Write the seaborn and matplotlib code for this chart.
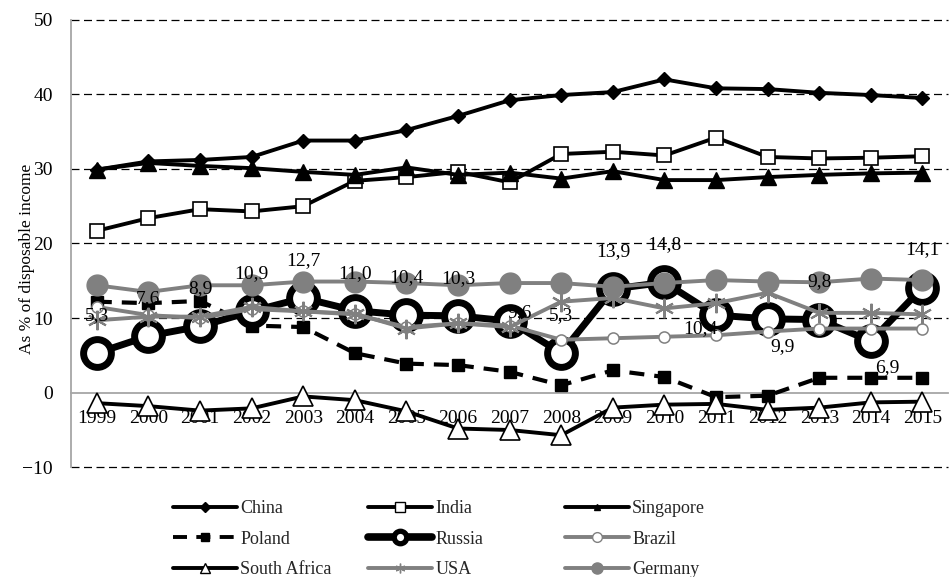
import matplotlib
matplotlib.use("Agg")
import matplotlib.pyplot as plt
from matplotlib.lines import Line2D
import pandas as pd
import seaborn as sns

# Household saving rates, % of disposable income
years = list(range(1999, 2016))
china = [29.9, 31.0, 31.2, 31.6, 33.8, 33.8, 35.2, 37.1, 39.2, 39.9, 40.3, 42.0, 40.8, 40.7, 40.2, 39.9, 39.5]
india = [21.7, 23.4, 24.6, 24.3, 25.0, 28.4, 28.9, 29.6, 28.2, 32.0, 32.3, 31.8, 34.2, 31.6, 31.4, 31.5, 31.7]
singapore = [29.9, 30.8, 30.4, 30.1, 29.6, 29.2, 30.2, 29.2, 29.5, 28.7, 29.7, 28.5, 28.5, 28.9, 29.2, 29.4, 29.5]
poland = [12.2, 12.0, 12.3, 9.0, 8.8, 5.3, 3.9, 3.7, 2.8, 1.0, 3.0, 2.1, -0.6, -0.4, 2.0, 2.0, 2.0]
russia = [5.3, 7.6, 8.9, 10.9, 12.7, 11.0, 10.4, 10.3, 9.6, 5.3, 13.9, 14.8, 10.4, 9.9, 9.8, 6.9, 14.1]
brazil = [11.5, 10.4, 10.0, 11.2, 10.9, 10.5, 8.8, 9.3, 9.0, 7.1, 7.3, 7.5, 7.7, 8.2, 8.6, 8.6, 8.6]
south_africa = [-1.4, -1.8, -2.4, -2.1, -0.5, -1.0, -2.5, -4.8, -5.0, -5.7, -2.0, -1.6, -1.5, -2.3, -2.0, -1.3, -1.2]
usa = [9.7, 10.2, 10.2, 11.5, 10.9, 10.6, 8.6, 9.3, 8.8, 12.2, 12.7, 11.3, 12.0, 13.4, 10.7, 10.7, 10.5]
germany = [14.4, 13.5, 14.4, 14.4, 14.9, 14.9, 14.7, 14.4, 14.7, 14.7, 14.2, 14.7, 15.1, 14.9, 14.8, 15.3, 15.1]
y_ticks = [-10, 0, 10, 20, 30, 40, 50]
y_title = "As % of disposable income"

df = pd.DataFrame({
    "Year": years, "China": china, "India": india, "Singapore": singapore,
    "Poland": poland, "Russia": russia, "Brazil": brazil,
    "South Africa": south_africa, "USA": usa, "Germany": germany,
})

sns.set_theme(style="white")
plt.rcParams["font.family"] = ["Liberation Serif", "DejaVu Serif"]

BLACK = "black"
GREY = "#808080"
AXIS_GREY = "#a6a6a6"
STAR = (6, 2, 0)

# line and marker styles per series (plot styles, legend styles)
plot_styles = {
    "China": dict(color=BLACK, lw=2.8, marker="D", ms=7, mfc=BLACK, mec=BLACK, mew=1),
    "India": dict(color=BLACK, lw=2.8, marker="s", ms=10.5, mfc="white", mec=BLACK, mew=1.2),
    "Singapore": dict(color=BLACK, lw=2.8, marker="^", ms=12, mfc=BLACK, mec=BLACK, mew=1),
    "Poland": dict(color=BLACK, lw=3, marker="s", ms=9, mfc=BLACK, mec=BLACK, mew=1,
                   linestyle=(0, (3.6, 2.4))),
    "Russia": dict(color=BLACK, lw=5, marker="o", ms=20, mfc="white", mec=BLACK, mew=5),
    "Brazil": dict(color=GREY, lw=2.8, marker="o", ms=8, mfc="white", mec=GREY, mew=1.1),
    "South Africa": dict(color=BLACK, lw=2.8, marker="^", ms=15, mfc="white", mec=BLACK, mew=1.2),
    "USA": dict(color=GREY, lw=2.8, marker=STAR, ms=14, mfc=GREY, mec=GREY, mew=1.5),
    "Germany": dict(color=GREY, lw=2.8, marker="o", ms=15, mfc=GREY, mec=GREY, mew=1),
}
legend_styles = {
    "China": dict(color=BLACK, lw=2.8, marker="D", ms=5, mfc=BLACK, mec=BLACK),
    "India": dict(color=BLACK, lw=2.8, marker="s", ms=7, mfc="white", mec=BLACK, mew=1),
    "Singapore": dict(color=BLACK, lw=2.8, marker="^", ms=5, mfc=BLACK, mec=BLACK),
    "Poland": dict(color=BLACK, lw=2.8, marker="s", ms=6, mfc=BLACK, mec=BLACK,
                   linestyle=(0, (3.6, 2.4))),
    "Russia": dict(color=BLACK, lw=5.5, marker="o", ms=9, mfc="white", mec=BLACK, mew=3.8),
    "Brazil": dict(color=GREY, lw=2.8, marker="o", ms=7, mfc="white", mec=GREY, mew=1),
    "South Africa": dict(color=BLACK, lw=2.8, marker="^", ms=7, mfc="white", mec=BLACK, mew=1),
    "USA": dict(color=GREY, lw=2.8, marker=STAR, ms=7, mfc=GREY, mec=GREY, mew=1),
    "Germany": dict(color=GREY, lw=2.8, marker="o", ms=8, mfc=GREY, mec=GREY),
}

fig = plt.figure(figsize=(9.5, 5.77), dpi=100)
ax = fig.add_axes([71 / 950, 1 - 467.3 / 577, 877.3 / 950, 447.6 / 577])

for z, (name, style) in enumerate(plot_styles.items()):
    sns.lineplot(data=df, x="Year", y=name, ax=ax, estimator=None, errorbar=None,
                 legend=False, zorder=4 + z, clip_on=False, **style)

# Russia value labels (decimal comma); a few are nudged off the crowded spots
label_offsets = {2007: (7, 6), 2011: (-11, -9.5), 2012: (11, -20), 2014: (12, -19)}
for yr, v in zip(years, russia):
    dx, dy = label_offsets.get(yr, (0, 27))
    ax.annotate(f"{v:.1f}".replace(".", ","), (yr, v), xytext=(dx, dy),
                textcoords="offset points", ha="center", va="center",
                fontsize=14, color=BLACK, zorder=30)

ax.set_xlim(years[0] - 0.5, years[-1] + 0.5)
ax.set_ylim(min(y_ticks), max(y_ticks))
ax.set_yticks(y_ticks)
ax.set_xticks(years)
ax.set_xticklabels([str(y) for y in years])

for t in y_ticks:
    if t != 0:
        ax.axhline(t, color=BLACK, lw=0.9, linestyle=(0, (6.4, 3.6)), zorder=1, clip_on=False)

for side in ("top", "right"):
    ax.spines[side].set_visible(False)
ax.spines["bottom"].set_position(("data", 0))
ax.spines["bottom"].set_color(AXIS_GREY)
ax.spines["bottom"].set_linewidth(1.3)
ax.spines["bottom"].set_zorder(2)
ax.spines["left"].set_color(AXIS_GREY)
ax.spines["left"].set_linewidth(1.3)

ax.tick_params(axis="x", length=0, pad=12.5, labelsize=14, colors=BLACK)
ax.tick_params(axis="y", length=0, pad=13, labelsize=14, colors=BLACK)
ax.set_xlabel("")
ax.set_ylabel(y_title, fontsize=12.5, color=BLACK)
ax.yaxis.set_label_coords(-0.041, 0.465)

# legend: three columns of three entries each
columns = [["China", "Poland", "South Africa"],
           ["India", "Russia", "USA"],
           ["Singapore", "Brazil", "Germany"]]
col_x = [173, 368, 565]
for names, x0 in zip(columns, col_x):
    handles = [Line2D([], [], **legend_styles[n]) for n in names]
    fig.legend(handles, names, loc="upper left",
               bbox_to_anchor=(x0 / 950, 1 - 500 / 577),
               frameon=False, fontsize=13, handlelength=3.55, handletextpad=0.17,
               borderpad=0, borderaxespad=0, labelspacing=0.76, numpoints=1)

fig.savefig("out.png", dpi=100)
